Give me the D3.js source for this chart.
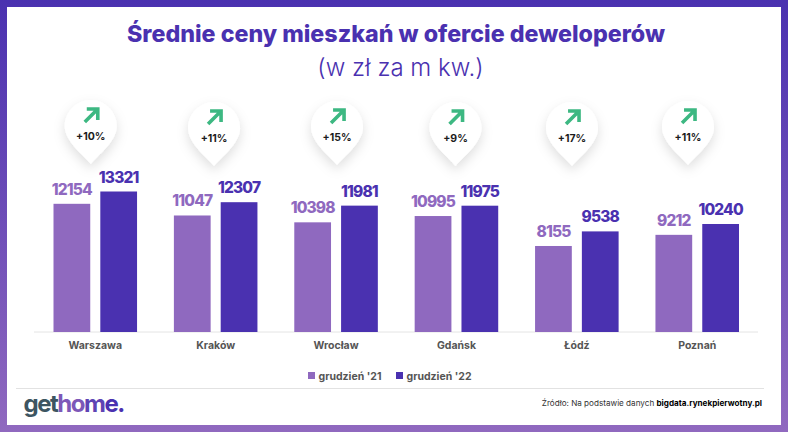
<!DOCTYPE html>
<html><head><meta charset="utf-8">
<script src="https://cdn.jsdelivr.net/npm/d3@7"></script>
<style>html,body{margin:0;padding:0;background:#fff}svg{display:block}text{font-family:Inter,"Open Sans",sans-serif}</style>
</head><body><svg id="c" width="788" height="432"></svg>
<script>
const categories=["Warszawa","Kraków","Wrocław","Gdańsk","Łódź","Poznań"];
const seriesNames=["grudzień '21","grudzień '22"];
const dec21=[12154,11047,10398,10995,8155,9212];
const dec22=[13321,12307,11981,11975,9538,10240];
const changes=["+10%","+11%","+15%","+9%","+17%","+11%"];
const pinDx=[-4.5,-1.6,1,-0.9,-4.8,-9.2], pinTip=[164,166,165,166,166,165];
const colors=["#8f69bf","#4a31b0"];

const svg=d3.select("#c");
const defs=svg.append("defs");
const g=defs.append("linearGradient").attr("id","bg").attr("x1",0).attr("y1",0).attr("x2",0).attr("y2",1);
g.append("stop").attr("offset","0").attr("stop-color","#4a31b0");
g.append("stop").attr("offset","1").attr("stop-color","#9069bf");
const f=defs.append("filter").attr("id","sh").attr("x","-50%").attr("y","-50%").attr("width","200%").attr("height","200%");
f.append("feDropShadow").attr("dx",0).attr("dy",5).attr("stdDeviation",6).attr("flood-color","#000").attr("flood-opacity",0.13);

svg.append("rect").attr("width",788).attr("height",432).attr("fill","url(#bg)");
svg.append("rect").attr("x",7).attr("y",7).attr("width",774).attr("height",418).attr("fill","#fff");

svg.append("text").attr("x",396).attr("y",41.5).attr("text-anchor","middle").attr("font-size",23.25).attr("font-weight",800).attr("fill","#4a31b0").text("Średnie ceny mieszkań w ofercie deweloperów");
svg.append("text").attr("x",400.5).attr("y",76).attr("text-anchor","middle").attr("font-size",24).attr("font-weight",300).attr("fill","#4a31b0").text("(w zł za m kw.)");

const x0=d3.scaleBand().domain(categories).range([53.5,739]).paddingInner(0.306).paddingOuter(0);
const x1=d3.scaleBand().domain(seriesNames).range([0,x0.bandwidth()]).paddingInner(0.215).paddingOuter(0);
const y=d3.scaleLinear().domain([0,13321]).range([332,191.5]);

const ax=svg.append("g").attr("transform","translate(0,332)").call(d3.axisBottom(x0).tickSize(0).tickPadding(8));
ax.select(".domain").remove();
ax.append("line").attr("x1",34).attr("x2",758).attr("stroke","#e4e4e4").attr("stroke-width",1);
ax.selectAll(".tick text").attr("font-family","Inter").attr("font-size",10.5).attr("font-weight",700).attr("fill","#555").attr("dy",".9em");

const groups=svg.selectAll("g.grp").data(categories).join("g").attr("class","grp").attr("transform",d=>`translate(${x0(d)},0)`);
[dec21,dec22].forEach((vals,s)=>{
  groups.append("rect").attr("x",x1(seriesNames[s])).attr("width",x1.bandwidth())
    .attr("y",(d,i)=>y(vals[i])).attr("height",(d,i)=>332-y(vals[i])).attr("fill",colors[s]);
  groups.append("text").attr("x",x1(seriesNames[s])+x1.bandwidth()/2).attr("y",(d,i)=>y(vals[i])-9)
    .attr("text-anchor","middle").attr("font-size",15.5).attr("font-weight",800).attr("letter-spacing",-0.85).attr("fill",colors[s]).text((d,i)=>vals[i]);
});

const pins=svg.selectAll("g.pin").data(categories).join("g").attr("class","pin")
  .attr("transform",(d,i)=>`translate(${x0(d)+x0.bandwidth()/2+pinDx[i]},${pinTip[i]})`);
pins.append("path").attr("d","M0 0 C-6 -8 -26 -22 -26 -38 C-26 -52 -14 -64 0 -64 C14 -64 26 -52 26 -38 C26 -22 6 -8 0 0 Z").attr("fill","#fff").attr("filter","url(#sh)");
pins.append("path").attr("d","M-6 -42 L6 -54 M-4 -55 L7 -55 L7 -44").attr("fill","none").attr("stroke","#3db882").attr("stroke-width",3.6).attr("stroke-linejoin","miter");
pins.append("text").attr("y",-24).attr("text-anchor","middle").attr("font-size",10.5).attr("font-weight",700).attr("fill","#1c1c1c").text((d,i)=>changes[i]);

const lg=svg.selectAll("g.lg").data(seriesNames).join("g").attr("class","lg").attr("transform",(d,i)=>`translate(${[308,396][i]},372)`);
lg.append("rect").attr("width",7).attr("height",7).attr("fill",(d,i)=>colors[i]);
lg.append("text").attr("x",10.5).attr("y",7.5).attr("font-size",10.5).attr("font-weight",700).attr("fill","#555").text(d=>d);

svg.append("line").attr("x1",16).attr("x2",764).attr("y1",388.5).attr("y2",388.5).attr("stroke","#e2e2e2");

const logo=svg.append("text").attr("x",23.5).attr("y",411.5).attr("font-size",24).attr("font-weight",700).attr("letter-spacing",-1.5);
logo.append("tspan").attr("fill","#3d5561").text("get");
logo.append("tspan").attr("fill","#7d58b8").text("ho");
logo.append("tspan").attr("fill","#5e44b4").text("m");
logo.append("tspan").attr("fill","#4a31b0").text("e.");

const src=svg.append("text").attr("x",762).attr("y",406).attr("text-anchor","end").attr("font-size",8.13).attr("fill","#333");
src.append("tspan").text("Źródło: Na podstawie danych ");
src.append("tspan").attr("font-weight",700).attr("fill","#000").text("bigdata.rynekpierwotny.pl");
</script></body></html>
